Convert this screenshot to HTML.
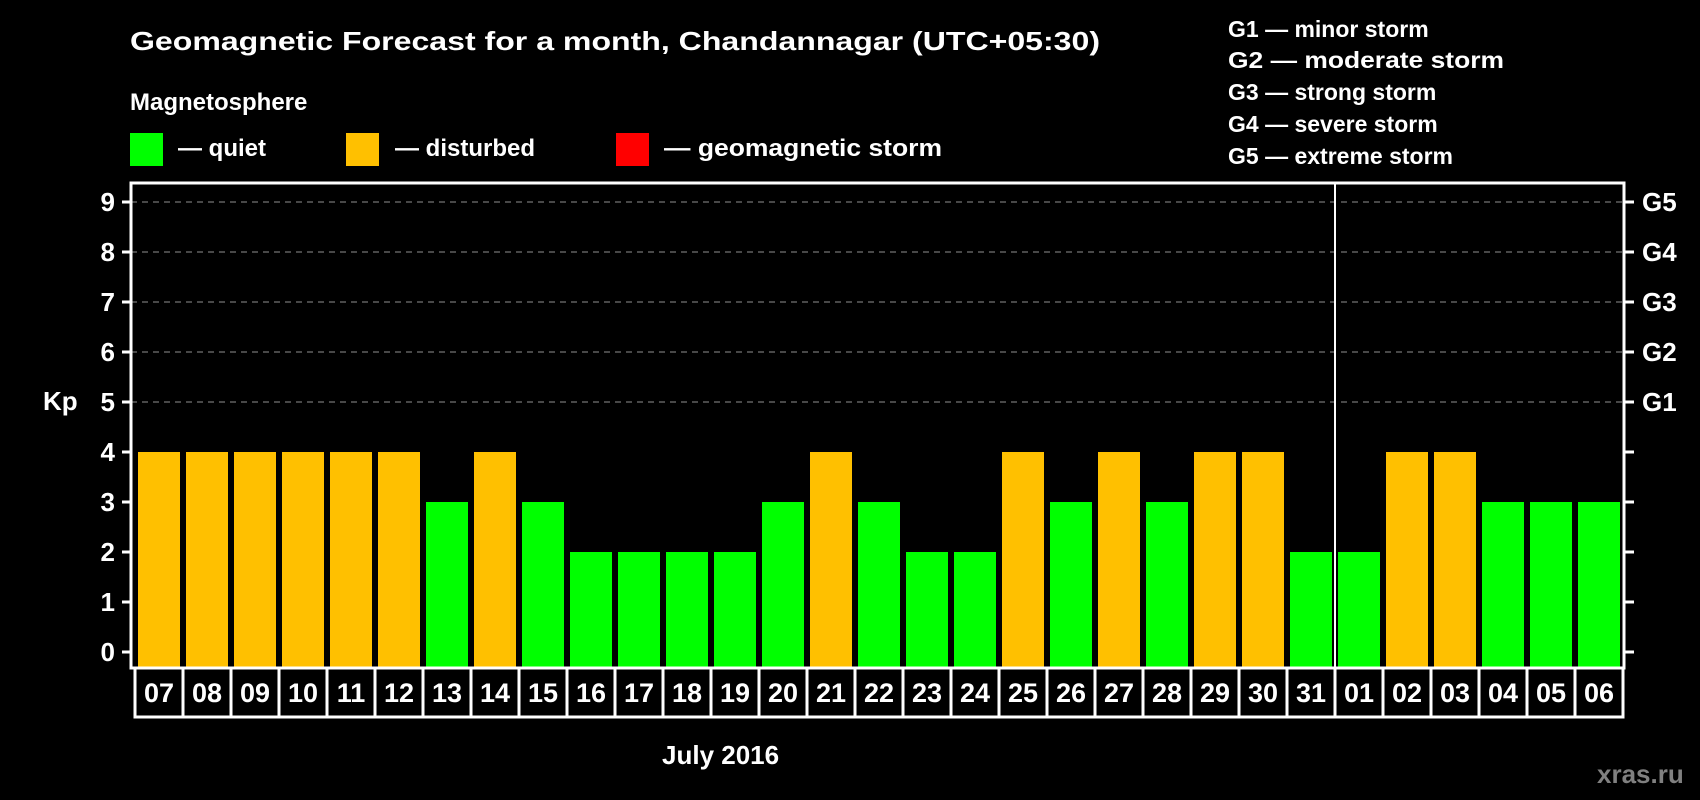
<!DOCTYPE html>
<html><head><meta charset="utf-8"><style>
html,body{margin:0;padding:0;background:#000;}
svg{display:block;font-family:"Liberation Sans",Arial,sans-serif;font-weight:bold;}
</style></head><body>
<svg id="chart" width="1700" height="800" viewBox="0 0 1700 800" xmlns="http://www.w3.org/2000/svg">
<rect x="0" y="0" width="1700" height="800" fill="#000"/>
<text x="130" y="50" font-size="26" fill="#fff" textLength="970" lengthAdjust="spacingAndGlyphs">Geomagnetic Forecast for a month, Chandannagar (UTC+05:30)</text>
<text x="130" y="110" font-size="24" fill="#fff">Magnetosphere</text>
<g>
<rect x="130" y="133" width="33" height="33" fill="#00ff00"/>
<text x="178" y="156" font-size="24" fill="#fff">— quiet</text></g>
<g>
<rect x="346" y="133" width="33" height="33" fill="#ffc000"/>
<text x="395" y="156" font-size="24" fill="#fff">— disturbed</text></g>
<g>
<rect x="616" y="133" width="33" height="33" fill="#ff0000"/>
<text x="664" y="156" font-size="24" fill="#fff" textLength="278" lengthAdjust="spacingAndGlyphs">— geomagnetic storm</text></g>
<g font-size="23" fill="#fff">
<text x="1228" y="37">G1 — minor storm</text>
<text x="1228" y="68" textLength="276" lengthAdjust="spacingAndGlyphs">G2 — moderate storm</text>
<text x="1228" y="100">G3 — strong storm</text>
<text x="1228" y="132">G4 — severe storm</text>
<text x="1228" y="164">G5 — extreme storm</text>
</g>
<text x="43" y="410" font-size="26" fill="#fff">Kp</text>
<text x="662" y="764" font-size="26" fill="#fff">July 2016</text>
<text x="1597" y="783" font-size="26" fill="#808080">xras.ru</text>
<g id="plot"></g>
</svg>
<script>
const days = ["07","08","09","10","11","12","13","14","15","16","17","18","19","20","21","22","23","24","25","26","27","28","29","30","31","01","02","03","04","05","06"];
const kpValues = [4,4,4,4,4,4,3,4,3,2,2,2,2,3,4,3,2,2,4,3,4,3,4,4,2,2,4,4,3,3,3];
const yTicks = [0,1,2,3,4,5,6,7,8,9];
const gLabels = ["G1","G2","G3","G4","G5"];
const gLevels = [5,6,7,8,9];

const NS = "http://www.w3.org/2000/svg";
const plot = document.getElementById("plot");
const L = 131, R = 1624, T = 183, B = 668, LB = 717;
const y = v => 652 - v * 50;
const x = i => 138 + i * 48;
function mk(tag, attrs) {
  const e = document.createElementNS(NS, tag);
  for (const k in attrs) e.setAttribute(k, attrs[k]);
  plot.appendChild(e);
  return e;
}
// gridlines
gLevels.forEach(v => {
  const g = mk("line", {x1: L, x2: R, y1: y(v), y2: y(v), stroke: "#909090", "stroke-width": 1, "stroke-dasharray": "6,5"});
  
  
});
// bars
kpValues.forEach((v, i) => {
  const c = v >= 5 ? "#ff0000" : (v >= 4 ? "#ffc000" : "#00ff00");
  const b = mk("rect", {x: x(i), y: y(v), width: 42, height: y(0) - y(v) + 16, fill: c});
  
  
});
// frame
const fr = mk("rect", {x: L, y: T, width: R - L, height: B - T, fill: "none", stroke: "#fff", "stroke-width": 3});


// y ticks
yTicks.forEach(v => {
  const t = mk("line", {x1: 122, x2: L, y1: y(v), y2: y(v), stroke: "#fff", "stroke-width": 3});
  
  
  const t2 = mk("line", {x1: R, x2: 1634, y1: y(v), y2: y(v), stroke: "#fff", "stroke-width": 3});
  
  
  const lb = mk("text", {x: 115, y: y(v) + 9, "text-anchor": "end", "font-size": 26, fill: "#fff"});
  lb.textContent = v;
  
  
});
gLevels.forEach((v, i) => {
  const lb = mk("text", {x: 1642, y: y(v) + 9, "font-size": 26, fill: "#fff"});
  lb.textContent = gLabels[i];
  
  
});
// date cells
days.forEach((d, i) => {
  const cx = 135 + i * 48;
  const r = mk("rect", {x: cx, y: B, width: 48, height: LB - B, fill: "#000", stroke: "#fff", "stroke-width": 3});
  
  
  const t = mk("text", {x: cx + 24, y: 702, "text-anchor": "middle", "font-size": 27, fill: "#fff"});
  t.textContent = d;
  
  
});
// month separator
const sepIdx = days.indexOf("01");
const sx = 135 + sepIdx * 48;
const sep = mk("line", {x1: sx, x2: sx, y1: T, y2: LB, stroke: "#fff", "stroke-width": 2});


</script>
</body></html>
